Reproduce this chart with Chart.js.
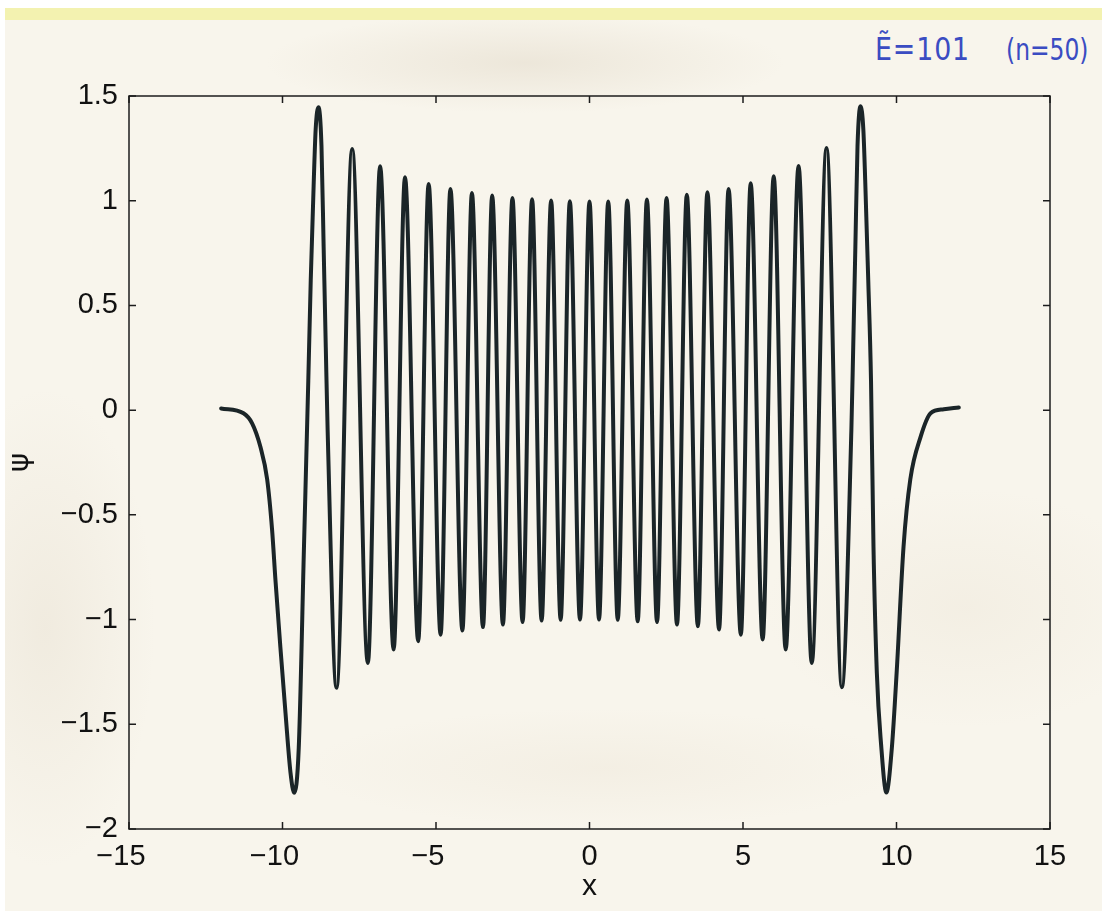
<!DOCTYPE html>
<html>
<head>
<meta charset="utf-8">
<script src="https://cdn.jsdelivr.net/npm/chart.js@4.4.1/dist/chart.umd.min.js"></script>
<style>
html,body{margin:0;padding:0;width:1102px;height:911px;overflow:hidden;background:#ffffff;}
#paper{position:absolute;left:5px;top:8px;width:1097px;height:903px;
  background:
    radial-gradient(ellipse 260px 50px at 520px 55px, rgba(200,185,160,0.24), rgba(200,185,160,0) 100%),
    radial-gradient(ellipse 110px 240px at 40px 620px, rgba(205,190,165,0.18), rgba(205,190,165,0) 100%),
    radial-gradient(ellipse 300px 60px at 600px 760px, rgba(215,200,175,0.14), rgba(215,200,175,0) 100%),
    radial-gradient(ellipse 200px 120px at 960px 600px, rgba(215,200,175,0.14), rgba(215,200,175,0) 100%),
    #f8f5ec;}
#strip{position:absolute;left:5px;top:8px;width:1097px;height:12px;background:#f3f2b0;}
#wrap{position:absolute;left:0;top:0;width:1102px;height:911px;}
.note{position:absolute;color:#3a4cc2;font-family:"DejaVu Sans","Liberation Sans",sans-serif;font-weight:400;white-space:nowrap;line-height:1;transform-origin:0 0;}
</style>
</head>
<body>
<div id="paper"></div>
<div id="strip"></div>
<div class="note" style="left:875px;top:33px;font-size:32px;letter-spacing:1px;transform:scaleX(0.84);">Ẽ=101</div>
<div class="note" style="left:1006px;top:35px;font-size:30px;transform:scaleX(0.78);">(n=50)</div>
<div id="wrap"><canvas id="c" width="1102" height="911"></canvas></div>
<script>
// positions (x) and values (psi), left to right
const xValues = [
  -12.00, -11.27, -10.99, -10.72, -10.50, -10.34, -10.23, -10.07, -9.90, -9.74,
  -9.62,
  -9.47, -9.30, -9.16, -9.08, -8.98, -8.92,
  -8.83,
  -8.73, -8.66, -8.59, -8.53,
  -8.24, -7.73, -7.22, -6.82, -6.38, -6.01, -5.58, -5.24, -4.85, -4.53,
  -4.14, -3.83, -3.47, -3.17, -2.82, -2.51, -2.18, -1.87, -1.56, -1.25,
  -0.94, -0.64, -0.31, 0.00, 0.31, 0.61, 0.92, 1.23, 1.57, 1.87,
  2.20, 2.51, 2.85, 3.17, 3.53, 3.84, 4.22, 4.53, 4.93, 5.25,
  5.64, 6.00, 6.39, 6.81, 7.24, 7.72, 8.22,
  8.53, 8.59, 8.66, 8.73,
  8.83,
  8.92, 8.98, 9.08, 9.17, 9.25, 9.36, 9.50,
  9.67,
  9.85, 10.01, 10.23, 10.45, 10.78, 11.11, 11.54, 12.03
];
const psiValues = [
  0.008, -0.015, -0.063, -0.175, -0.33, -0.57, -0.81, -1.13, -1.45, -1.73,
  -1.827,
  -1.61, -0.65, 0.14, 0.62, 1.10, 1.34,
  1.446,
  1.26, 0.78, 0.30, -0.095,
  -1.326, 1.247, -1.207, 1.165, -1.143, 1.112, -1.103, 1.080, -1.072, 1.056,
  -1.052, 1.037, -1.036, 1.025, -1.024, 1.013, -1.012, 1.007, -1.005, 1.001,
  -1.001, 0.998, -1.000, 0.996, -1.000, 0.996, -1.001, 1.001, -1.008, 1.006,
  -1.012, 1.013, -1.024, 1.028, -1.032, 1.040, -1.048, 1.056, -1.072, 1.083,
  -1.095, 1.117, -1.143, 1.166, -1.207, 1.252, -1.323,
  -0.095, 0.30, 0.78, 1.26,
  1.451,
  1.34, 1.10, 0.62, 0.14, -0.65, -1.256, -1.60,
  -1.826,
  -1.61, -1.24, -0.65, -0.33, -0.13, -0.015, 0.004, 0.013
];
const xTickValues = [-15, -10, -5, 0, 5, 10, 15];
const yTickValues = [-2, -1.5, -1, -0.5, 0, 0.5, 1, 1.5];

const fmt = v => (v < 0 ? '\u2212' + String(Math.abs(v)) : String(v));
// x labels: digits centred on the tick, the minus hanging to the left (as in the original)
const fmtX = v => (v < 0 ? '\u2212' + String(Math.abs(v)) + '\u2007' : String(v));

const framePlugin = {
  id: 'frame',
  afterDraw(chart) {
    const {ctx, chartArea: a, scales} = chart;
    ctx.save();
    ctx.strokeStyle = '#1c1c1c';
    ctx.lineWidth = 1.5;
    ctx.strokeRect(a.left, a.top, a.right - a.left, a.bottom - a.top);
    const L = 7;
    ctx.beginPath();
    xTickValues.forEach(v => {
      const px = scales.x.getPixelForValue(v);
      ctx.moveTo(px, a.bottom); ctx.lineTo(px, a.bottom - L);
      ctx.moveTo(px, a.top); ctx.lineTo(px, a.top + L);
    });
    yTickValues.forEach(v => {
      const py = scales.y.getPixelForValue(v);
      ctx.moveTo(a.left, py); ctx.lineTo(a.left + L, py);
      ctx.moveTo(a.right, py); ctx.lineTo(a.right - L, py);
    });
    ctx.stroke();
    ctx.restore();
  }
};

const tickFont = {family: '"Liberation Sans", Arial, Helvetica, sans-serif', size: 29};

new Chart(document.getElementById('c'), {
  type: 'line',
  data: {
    datasets: [{
      data: xValues.map((x, i) => ({x: x, y: psiValues[i]})),
      borderColor: '#1b2528',
      borderWidth: 4,
      pointRadius: 0,
      fill: false,
      cubicInterpolationMode: 'monotone',
      borderJoinStyle: 'round',
      borderCapStyle: 'round'
    }]
  },
  options: {
    responsive: false,
    animation: false,
    devicePixelRatio: 1,
    layout: {padding: {left: 0, top: 96, right: 52, bottom: 0}},
    plugins: {legend: {display: false}, tooltip: {enabled: false}},
    scales: {
      x: {
        type: 'linear', min: -15, max: 15,
        afterBuildTicks: s => { s.ticks = xTickValues.map(v => ({value: v})); },
        afterFit: s => { s.height = 82; },
        grid: {display: false, drawTicks: false},
        border: {display: false},
        ticks: {font: tickFont, color: '#111', padding: 11, maxRotation: 0, autoSkip: false, callback: v => fmtX(v)},
        title: {display: true, text: 'x', color: '#111', font: {family: '"Liberation Sans", Arial, sans-serif', size: 30}, padding: {top: 0, bottom: 6}}
      },
      y: {
        type: 'linear', min: -2, max: 1.5,
        afterBuildTicks: s => { s.ticks = yTickValues.map(v => ({value: v})); },
        afterFit: s => { s.width = 129; },
        grid: {display: false, drawTicks: false},
        border: {display: false},
        ticks: {font: tickFont, color: '#111', padding: 11, autoSkip: false, callback: v => fmt(v)},
        title: {display: true, text: 'ψ', color: '#111', font: {family: '"DejaVu Sans", "Liberation Sans", sans-serif', size: 29}, padding: {top: 3, bottom: 0}}
      }
    }
  },
  plugins: [framePlugin]
});
</script>
</body>
</html>
